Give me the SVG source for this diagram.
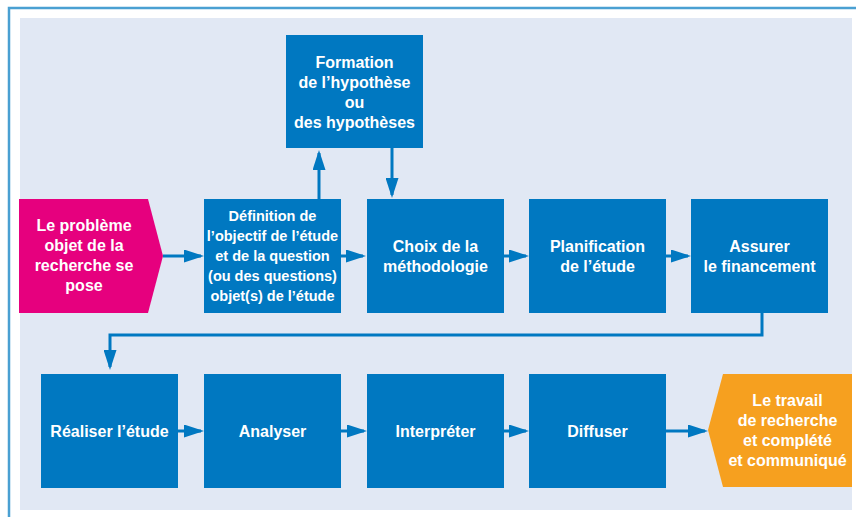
<svg xmlns="http://www.w3.org/2000/svg" width="856" height="517" viewBox="0 0 856 517">
<style>
.box{fill:#0078c1}
.t{font-family:"Liberation Sans",Arial,sans-serif;font-weight:bold;font-size:16px;fill:#ffffff;text-anchor:middle}
.s{font-size:14.5px}
.c{stroke:#0078c1;stroke-width:3;fill:none}
</style>
<defs>
<marker id="ah" markerUnits="userSpaceOnUse" markerWidth="20" markerHeight="13" refX="17" refY="6.5" orient="auto">
<path d="M0,0 L20,6.5 L0,13 z" fill="#0078c1"/>
</marker>
</defs>
<rect x="0" y="0" width="856" height="517" fill="#ffffff"/>
<path d="M9,517 V8 H856" stroke="#4aa0d2" stroke-width="2.5" fill="none"/>
<rect x="20" y="18" width="832" height="492" fill="#e1e8f4"/>

<g id="connectors">
<line class="c" x1="163" y1="256" x2="201" y2="256" marker-end="url(#ah)"/>
<line class="c" x1="341" y1="256" x2="363" y2="256" marker-end="url(#ah)"/>
<line class="c" x1="504" y1="256" x2="526" y2="256" marker-end="url(#ah)"/>
<line class="c" x1="666" y1="256" x2="688" y2="256" marker-end="url(#ah)"/>
<line class="c" x1="319" y1="199" x2="319" y2="153" marker-end="url(#ah)"/>
<line class="c" x1="392" y1="148" x2="392" y2="195" marker-end="url(#ah)"/>
<polyline class="c" stroke-width="2.5" points="762,313 762,335 110,335 110,367" marker-end="url(#ah)"/>
<line class="c" x1="178" y1="431" x2="201" y2="431" marker-end="url(#ah)"/>
<line class="c" x1="341" y1="431" x2="364" y2="431" marker-end="url(#ah)"/>
<line class="c" x1="504" y1="431" x2="526" y2="431" marker-end="url(#ah)"/>
<line class="c" x1="666" y1="431" x2="705" y2="431" marker-end="url(#ah)"/>
</g>

<g id="probleme">
<polygon points="19,199 148,199 163,256 148,313 19,313" fill="#e6007e"/>
<text class="t" x="84" y="231">Le problème</text>
<text class="t" x="84" y="251">objet de la</text>
<text class="t" x="84" y="271">recherche se</text>
<text class="t" x="84" y="291">pose</text>
</g>

<g id="definition">
<rect class="box" x="204" y="199" width="137" height="114"/>
<text class="t s" x="272.5" y="221">Définition de</text>
<text class="t s" x="272.5" y="241">l’objectif de l’étude</text>
<text class="t s" x="272.5" y="261">et de la question</text>
<text class="t s" x="272.5" y="281">(ou des questions)</text>
<text class="t s" x="272.5" y="301">objet(s) de l’étude</text>
</g>

<g id="formation">
<rect class="box" x="286" y="35" width="137" height="113"/>
<text class="t" x="354.5" y="68">Formation</text>
<text class="t" x="354.5" y="88">de l’hypothèse</text>
<text class="t" x="354.5" y="108">ou</text>
<text class="t" x="354.5" y="128">des hypothèses</text>
</g>

<g id="choix">
<rect class="box" x="367" y="199" width="137" height="114"/>
<text class="t" x="435.5" y="252">Choix de la</text>
<text class="t" x="435.5" y="272">méthodologie</text>
</g>

<g id="planification">
<rect class="box" x="529" y="199" width="137" height="114"/>
<text class="t" x="597.5" y="252">Planification</text>
<text class="t" x="597.5" y="272">de l’étude</text>
</g>

<g id="financement">
<rect class="box" x="691" y="199" width="137" height="114"/>
<text class="t" x="759.5" y="252">Assurer</text>
<text class="t" x="759.5" y="272">le financement</text>
</g>

<g id="realiser">
<rect class="box" x="41" y="374" width="137" height="114"/>
<text class="t" x="109.5" y="437">Réaliser l’étude</text>
</g>

<g id="analyser">
<rect class="box" x="204" y="374" width="137" height="114"/>
<text class="t" x="272.5" y="437">Analyser</text>
</g>

<g id="interpreter">
<rect class="box" x="367" y="374" width="137" height="114"/>
<text class="t" x="435.5" y="437">Interpréter</text>
</g>

<g id="diffuser">
<rect class="box" x="529" y="374" width="137" height="114"/>
<text class="t" x="597.5" y="437">Diffuser</text>
</g>

<g id="fin">
<polygon points="723,374 852,374 852,487 723,487 708,430" fill="#f6a01f"/>
<text class="t" x="787.5" y="406">Le travail</text>
<text class="t" x="787.5" y="426">de recherche</text>
<text class="t" x="787.5" y="446">et complété</text>
<text class="t" x="787.5" y="466">et communiqué</text>
</g>
</svg>
